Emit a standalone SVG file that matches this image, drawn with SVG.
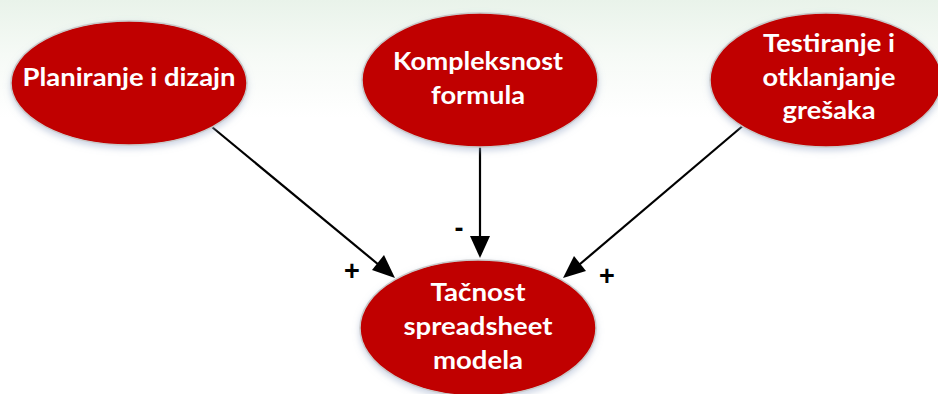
<svg xmlns="http://www.w3.org/2000/svg" width="938" height="394" viewBox="0 0 938 394">
<defs>
<linearGradient id="bg" x1="0" y1="0" x2="0" y2="1">
<stop offset="0" stop-color="#e9f3ea"/>
<stop offset="0.14" stop-color="#f6faf6"/>
<stop offset="0.3" stop-color="#ffffff"/>
</linearGradient>
<filter id="sh" x="-10%" y="-10%" width="120%" height="130%">
<feDropShadow dx="0" dy="3" stdDeviation="3" flood-color="#9aa9c8" flood-opacity="0.5"/>
</filter>
</defs>
<style>
.node ellipse{fill:#c00000;stroke:#c9c9c9;stroke-width:1.5;filter:url(#sh)}
.node text{font-family:Lato,"Open Sans","Liberation Sans",sans-serif;font-weight:bold;font-size:25px;fill:#fff;text-anchor:middle}
.conn line{stroke:#000;stroke-width:2.2}
.head{fill:#000}
.lbl{font-family:"Liberation Sans",Arial,sans-serif;font-weight:bold;font-size:27px;fill:#000;text-anchor:middle}
</style>
<rect width="938" height="394" fill="url(#bg)"/>
<g class="conn">
<line x1="212" y1="127" x2="385" y2="270"/>
<line x1="480" y1="147" x2="480" y2="240"/>
<line x1="745" y1="124" x2="573" y2="270"/>
<path class="head" d="M395,278 L372,270 L384,255 z"/>
<path class="head" d="M480,258 L470,236 L490,236 z"/>
<path class="head" d="M563,278 L574,256 L586,271 z"/>
<text class="lbl" x="352" y="280">+</text>
<text class="lbl" x="459" y="237">-</text>
<text class="lbl" x="607" y="285">+</text>
</g>
<g id="planiranje" class="node">
<ellipse cx="129" cy="83" rx="118" ry="62"/>
<text x="129" y="86" textLength="213" lengthAdjust="spacingAndGlyphs">Planiranje i dizajn</text>
</g>
<g id="kompleksnost" class="node">
<ellipse cx="480" cy="80" rx="118" ry="67"/>
<text x="478" y="70" textLength="170" lengthAdjust="spacingAndGlyphs">Kompleksnost</text>
<text x="478" y="104" textLength="94" lengthAdjust="spacingAndGlyphs">formula</text>
</g>
<g id="testiranje" class="node">
<ellipse cx="826" cy="80" rx="116" ry="67"/>
<text x="829" y="52" textLength="132" lengthAdjust="spacingAndGlyphs">Testiranje i</text>
<text x="829" y="86" textLength="133" lengthAdjust="spacingAndGlyphs">otklanjanje</text>
<text x="829" y="119" textLength="93" lengthAdjust="spacingAndGlyphs">grešaka</text>
</g>
<g id="tacnost" class="node">
<ellipse cx="478" cy="328" rx="118" ry="68"/>
<text x="478" y="301" textLength="95" lengthAdjust="spacingAndGlyphs">Tačnost</text>
<text x="478" y="335" textLength="149" lengthAdjust="spacingAndGlyphs">spreadsheet</text>
<text x="478" y="369" textLength="90" lengthAdjust="spacingAndGlyphs">modela</text>
</g>
</svg>
